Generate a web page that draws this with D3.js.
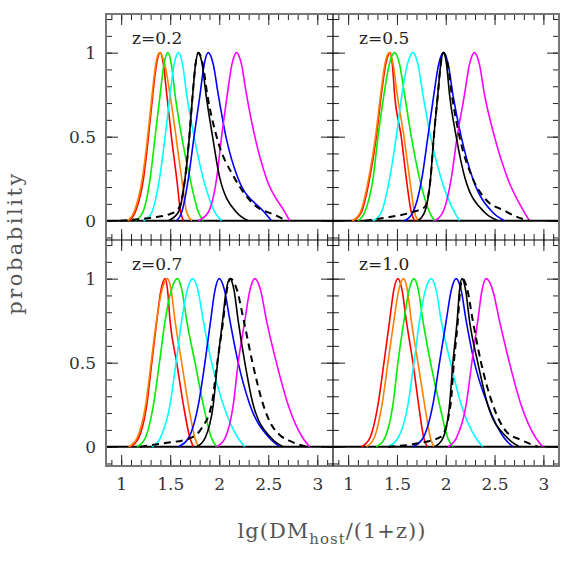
<!DOCTYPE html>
<html><head><meta charset="utf-8">
<script src="https://cdn.jsdelivr.net/npm/d3@7"></script>
<style>body{margin:0;background:#fff}svg{display:block}</style>
</head><body><svg id="c" width="572" height="572"></svg>
<script>
// ---- data (x = lg(DM_host/(1+z)), y = probability) ----
const panelLabels = ["z=0.2", "z=0.5", "z=0.7", "z=1.0"];
const xTickLabels = [1, 1.5, 2, 2.5, 3];
const yTickLabels = [0, 0.5, 1];
const seriesColors = ["#ff0000", "#ff8000", "#00ee00", "#00ffff", "#0000ff", "#ff00ff", "#000000", "#000000"];
const seriesDashed = [false, false, false, false, false, false, false, true];

// z = 0.2
const red02 = [[1.085,0],[1.143,0.05],[1.227,0.25],[1.278,0.5],[1.322,0.75],[1.36,0.93],[1.397,1],[1.431,0.93],[1.465,0.75],[1.512,0.5],[1.566,0.25],[1.607,0.05],[1.634,0]];
const orange02 = [[1.07,0],[1.13,0.05],[1.215,0.25],[1.27,0.5],[1.315,0.75],[1.352,0.93],[1.39,1],[1.444,0.93],[1.498,0.75],[1.559,0.5],[1.617,0.25],[1.668,0.05],[1.72,0]];
const green02 = [[1.143,0],[1.22,0.05],[1.295,0.25],[1.346,0.5],[1.397,0.75],[1.436,0.93],[1.475,1],[1.512,0.93],[1.549,0.75],[1.617,0.5],[1.702,0.25],[1.787,0.05],[1.837,0]];
const cyan02 = [[1.227,0],[1.312,0.05],[1.39,0.25],[1.448,0.5],[1.498,0.75],[1.54,0.93],[1.583,1],[1.626,0.93],[1.668,0.75],[1.743,0.5],[1.837,0.25],[1.956,0.05],[2.024,0]];
const blue02 = [[1.566,0],[1.617,0.05],[1.685,0.25],[1.743,0.5],[1.804,0.75],[1.846,0.93],[1.888,1],[1.939,0.93],[1.99,0.75],[2.068,0.5],[2.193,0.25],[2.46,0.05],[2.532,0]];
const magenta02 = [[1.787,0],[1.888,0.05],[1.973,0.25],[2.024,0.5],[2.082,0.75],[2.129,0.93],[2.176,1],[2.227,0.93],[2.278,0.75],[2.363,0.5],[2.482,0.25],[2.67,0.05],[2.719,0]];
const black02 = [[1.48,0],[1.583,0.05],[1.651,0.25],[1.695,0.5],[1.729,0.75],[1.758,0.93],[1.787,1],[1.826,0.93],[1.865,0.75],[1.932,0.5],[2.007,0.25],[2.176,0.05],[2.295,0]];
const dashed02 = [[0.99,0],[1.33,0.02],[1.5,0.04],[1.583,0.07],[1.651,0.25],[1.695,0.5],[1.729,0.75],[1.758,0.93],[1.787,1],[1.832,0.93],[1.878,0.75],[1.973,0.5],[2.16,0.25],[2.346,0.1],[2.583,0.03],[2.685,0]];

// z = 0.5
const red05 = [[1.05,0],[1.135,0.05],[1.22,0.25],[1.289,0.5],[1.34,0.75],[1.385,0.93],[1.43,1],[1.453,0.93],[1.476,0.75],[1.544,0.5],[1.596,0.25],[1.647,0.05],[1.68,0]];
const orange05 = [[1.04,0],[1.125,0.05],[1.21,0.25],[1.28,0.5],[1.333,0.75],[1.376,0.93],[1.42,1],[1.461,0.93],[1.503,0.75],[1.572,0.5],[1.63,0.25],[1.68,0.05],[1.715,0]];
const green05 = [[1.1,0],[1.17,0.05],[1.255,0.25],[1.306,0.5],[1.367,0.75],[1.421,0.93],[1.476,1],[1.527,0.93],[1.578,0.75],[1.647,0.5],[1.732,0.25],[1.834,0.05],[1.885,0]];
const cyan05 = [[1.255,0],[1.34,0.05],[1.425,0.25],[1.493,0.5],[1.551,0.75],[1.607,0.93],[1.664,1],[1.715,0.93],[1.766,0.75],[1.844,0.5],[1.953,0.25],[2.09,0.05],[2.141,0]];
const blue05 = [[1.578,0],[1.664,0.05],[1.755,0.25],[1.817,0.5],[1.878,0.75],[1.927,0.93],[1.977,1],[2.025,0.93],[2.073,0.75],[2.158,0.5],[2.277,0.25],[2.48,0.05],[2.601,0]];
const magenta05 = [[1.885,0],[1.97,0.05],[2.056,0.25],[2.117,0.5],[2.192,0.75],[2.243,0.93],[2.294,1],[2.345,0.93],[2.397,0.75],[2.499,0.5],[2.635,0.25],[2.805,0.05],[2.857,0]];
const black05 = [[1.715,0],[1.783,0.05],[1.844,0.25],[1.878,0.5],[1.919,0.75],[1.948,0.93],[1.977,1],[2.008,0.93],[2.039,0.75],[2.107,0.5],[2.199,0.25],[2.397,0.05],[2.533,0]];
const dashed05 = [[1.17,0],[1.41,0.02],[1.65,0.05],[1.783,0.08],[1.844,0.25],[1.878,0.5],[1.919,0.75],[1.948,0.93],[1.977,1],[2.02,0.93],[2.062,0.75],[2.141,0.5],[2.277,0.25],[2.42,0.12],[2.6,0.06],[2.74,0.02],[2.857,0]];

// z = 0.7
const red07 = [[1.092,0],[1.176,0.05],[1.261,0.25],[1.312,0.5],[1.363,0.75],[1.405,0.93],[1.448,1],[1.473,0.93],[1.498,0.75],[1.566,0.5],[1.634,0.25],[1.702,0.05],[1.736,0]];
const orange07 = [[1.075,0],[1.16,0.05],[1.25,0.25],[1.305,0.5],[1.36,0.75],[1.415,0.93],[1.471,1],[1.51,0.93],[1.549,0.75],[1.617,0.5],[1.685,0.25],[1.753,0.05],[1.787,0]];
const green07 = [[1.16,0],[1.244,0.05],[1.329,0.25],[1.39,0.5],[1.448,0.75],[1.51,0.93],[1.573,1],[1.62,0.93],[1.668,0.75],[1.753,0.5],[1.837,0.25],[1.922,0.05],[1.973,0]];
const cyan07 = [[1.312,0],[1.397,0.05],[1.498,0.25],[1.559,0.5],[1.617,0.75],[1.673,0.93],[1.729,1],[1.783,0.93],[1.837,0.75],[1.922,0.5],[2.041,0.25],[2.193,0.05],[2.261,0]];
const blue07 = [[1.583,0],[1.685,0.05],[1.787,0.25],[1.854,0.5],[1.912,0.75],[1.956,0.93],[2.0,1],[2.054,0.93],[2.109,0.75],[2.193,0.5],[2.312,0.25],[2.515,0.05],[2.617,0]];
const magenta07 = [[1.973,0],[2.058,0.05],[2.143,0.25],[2.193,0.5],[2.261,0.75],[2.312,0.93],[2.363,1],[2.422,0.93],[2.482,0.75],[2.583,0.5],[2.702,0.25],[2.854,0.05],[2.922,0]];
const black07 = [[1.77,0],[1.854,0.05],[1.939,0.25],[1.983,0.5],[2.034,0.75],[2.071,0.93],[2.109,1],[2.151,0.93],[2.193,0.75],[2.261,0.5],[2.346,0.25],[2.532,0.05],[2.651,0]];
const dashed07 = [[1.193,0],[1.43,0.02],[1.7,0.05],[1.82,0.11],[1.922,0.25],[1.98,0.5],[2.04,0.75],[2.077,0.93],[2.115,1],[2.182,0.93],[2.25,0.75],[2.339,0.5],[2.448,0.25],[2.532,0.13],[2.617,0.07],[2.736,0.03],[2.888,0]];

// z = 1.0
const red10 = [[1.135,0],[1.221,0.05],[1.306,0.25],[1.367,0.5],[1.425,0.75],[1.467,0.93],[1.51,1],[1.553,0.93],[1.596,0.75],[1.664,0.5],[1.722,0.25],[1.776,0.05],[1.81,0]];
const orange10 = [[1.187,0],[1.265,0.05],[1.347,0.25],[1.408,0.5],[1.469,0.75],[1.518,0.93],[1.568,1],[1.607,0.93],[1.647,0.75],[1.715,0.5],[1.783,0.25],[1.844,0.05],[1.878,0]];
const green10 = [[1.289,0],[1.374,0.05],[1.459,0.25],[1.51,0.5],[1.572,0.75],[1.623,0.93],[1.674,1],[1.72,0.93],[1.766,0.75],[1.844,0.5],[1.936,0.25],[2.022,0.05],[2.073,0]];
const cyan10 = [[1.408,0],[1.51,0.05],[1.613,0.25],[1.674,0.5],[1.732,0.75],[1.791,0.93],[1.851,1],[1.902,0.93],[1.953,0.75],[2.049,0.5],[2.158,0.25],[2.311,0.05],[2.379,0]];
const blue10 = [[1.664,0],[1.766,0.05],[1.868,0.25],[1.936,0.5],[2.005,0.75],[2.056,0.93],[2.107,1],[2.158,0.93],[2.209,0.75],[2.294,0.5],[2.43,0.25],[2.601,0.05],[2.686,0]];
const magenta10 = [[2.022,0],[2.107,0.05],[2.209,0.25],[2.267,0.5],[2.328,0.75],[2.371,0.93],[2.414,1],[2.482,0.93],[2.55,0.75],[2.652,0.5],[2.771,0.25],[2.925,0.05],[2.993,0]];
const black10 = [[1.885,0],[1.97,0.05],[2.039,0.25],[2.073,0.5],[2.117,0.75],[2.141,0.93],[2.165,1],[2.204,0.93],[2.243,0.75],[2.328,0.5],[2.43,0.25],[2.635,0.05],[2.754,0]];
const dashed10 = [[1.408,0],[1.715,0.02],[1.953,0.06],[2.049,0.25],[2.083,0.5],[2.124,0.75],[2.147,0.93],[2.17,1],[2.223,0.93],[2.277,0.75],[2.362,0.5],[2.482,0.25],[2.62,0.09],[2.771,0.04],[2.942,0]];

const panelSeries = [
  [red02, orange02, green02, cyan02, blue02, magenta02, black02, dashed02],
  [red05, orange05, green05, cyan05, blue05, magenta05, black05, dashed05],
  [red07, orange07, green07, cyan07, blue07, magenta07, black07, dashed07],
  [red10, orange10, green10, cyan10, blue10, magenta10, black10, dashed10]
];

// ---- layout ----
const xDomain = [0.845, 3.16], yDomain = [-0.115, 1.23];
const colX = [[106, 333], [333, 559]];
const rowY = [[14, 240], [240, 466]];
const svg = d3.select("#c");
const FONT = "'DejaVu Serif', serif";
const minorX = d3.range(9, 32).map(d => d / 10);
const minorY = d3.range(-1, 13).map(d => d / 10);

panelSeries.forEach((series, i) => {
  const col = i % 2, row = Math.floor(i / 2);
  const x = d3.scaleLinear().domain(xDomain).range(colX[col]);
  const y = d3.scaleLinear().domain(yDomain).range([rowY[row][1], rowY[row][0]]);
  const g = svg.append("g");
  const [x0, x1] = colX[col], [y0, y1] = rowY[row];

  function addAxis(axisFn, tr, vals, size, labels) {
    const a = axisFn.tickValues(vals).tickSize(-size).tickSizeOuter(0)
      .tickFormat(labels ? d3.format("") : "").tickPadding(labels ? 12 : 0);
    const ag = g.append("g").attr("transform", tr).call(a);
    ag.select(".domain").remove();
    ag.selectAll("line").attr("stroke", "#222").attr("stroke-width", 1);
    ag.selectAll("text").attr("font-family", FONT).attr("font-size", 17).attr("fill", "#333");
    return ag;
  }
  addAxis(d3.axisBottom(x), `translate(0,${y1})`, minorX, 6, false);
  addAxis(d3.axisBottom(x), `translate(0,${y1})`, xTickLabels, 11, row === 1);
  addAxis(d3.axisTop(x), `translate(0,${y0})`, minorX, 6, false);
  addAxis(d3.axisTop(x), `translate(0,${y0})`, xTickLabels, 11, false);
  addAxis(d3.axisLeft(y), `translate(${x0},0)`, minorY, 6, false);
  const la = addAxis(d3.axisLeft(y), `translate(${x0},0)`, yTickLabels, 12, col === 0);
  if (col === 0) la.selectAll("text").attr("x", -10);
  addAxis(d3.axisRight(y), `translate(${x1},0)`, minorY, 6, false);
  addAxis(d3.axisRight(y), `translate(${x1},0)`, yTickLabels, 12, false);

  g.append("line").attr("x1", x0).attr("x2", x1).attr("y1", y(0)).attr("y2", y(0))
    .attr("stroke", "#000").attr("stroke-width", 2);

  const line = d3.line().x(d => x(d[0])).y(d => y(d[1])).curve(d3.curveMonotoneX);
  series.forEach((pts, k) => {
    g.append("path").attr("d", line(pts)).attr("fill", "none")
      .attr("stroke", seriesColors[k]).attr("stroke-width", seriesDashed[k] ? 2 : 1.6)
      .attr("stroke-dasharray", seriesDashed[k] ? "7,5" : null)
      .attr("stroke-linejoin", "round");
  });

  g.append("text").attr("x", x0 + 26).attr("y", y0 + 30)
    .attr("font-family", FONT).attr("font-size", 17).attr("fill", "#222")
    .text(panelLabels[i]);
});

svg.append("rect").attr("x", 106).attr("y", 14).attr("width", 453).attr("height", 452)
  .attr("fill", "none").attr("stroke", "#777").attr("stroke-width", 2);
svg.append("line").attr("x1", 333).attr("x2", 333).attr("y1", 14).attr("y2", 466).attr("stroke", "#000").attr("stroke-width", 1.2);
svg.append("line").attr("x1", 106).attr("x2", 559).attr("y1", 240).attr("y2", 240).attr("stroke", "#000").attr("stroke-width", 1.2);

const xt = svg.append("text").attr("x", 332).attr("y", 538).attr("text-anchor", "middle")
  .attr("font-family", FONT).attr("font-size", 21).attr("fill", "#555").attr("letter-spacing", 1);
xt.append("tspan").text("lg(DM");
xt.append("tspan").attr("font-size", 15).attr("dy", 6).text("host");
xt.append("tspan").attr("dy", -6).text("/(1+z))");

svg.append("text").attr("transform", "translate(22,243) rotate(-90)").attr("text-anchor", "middle")
  .attr("font-family", FONT).attr("font-size", 21).attr("fill", "#555").attr("letter-spacing", 2.5)
  .text("probability");
</script></body></html>
